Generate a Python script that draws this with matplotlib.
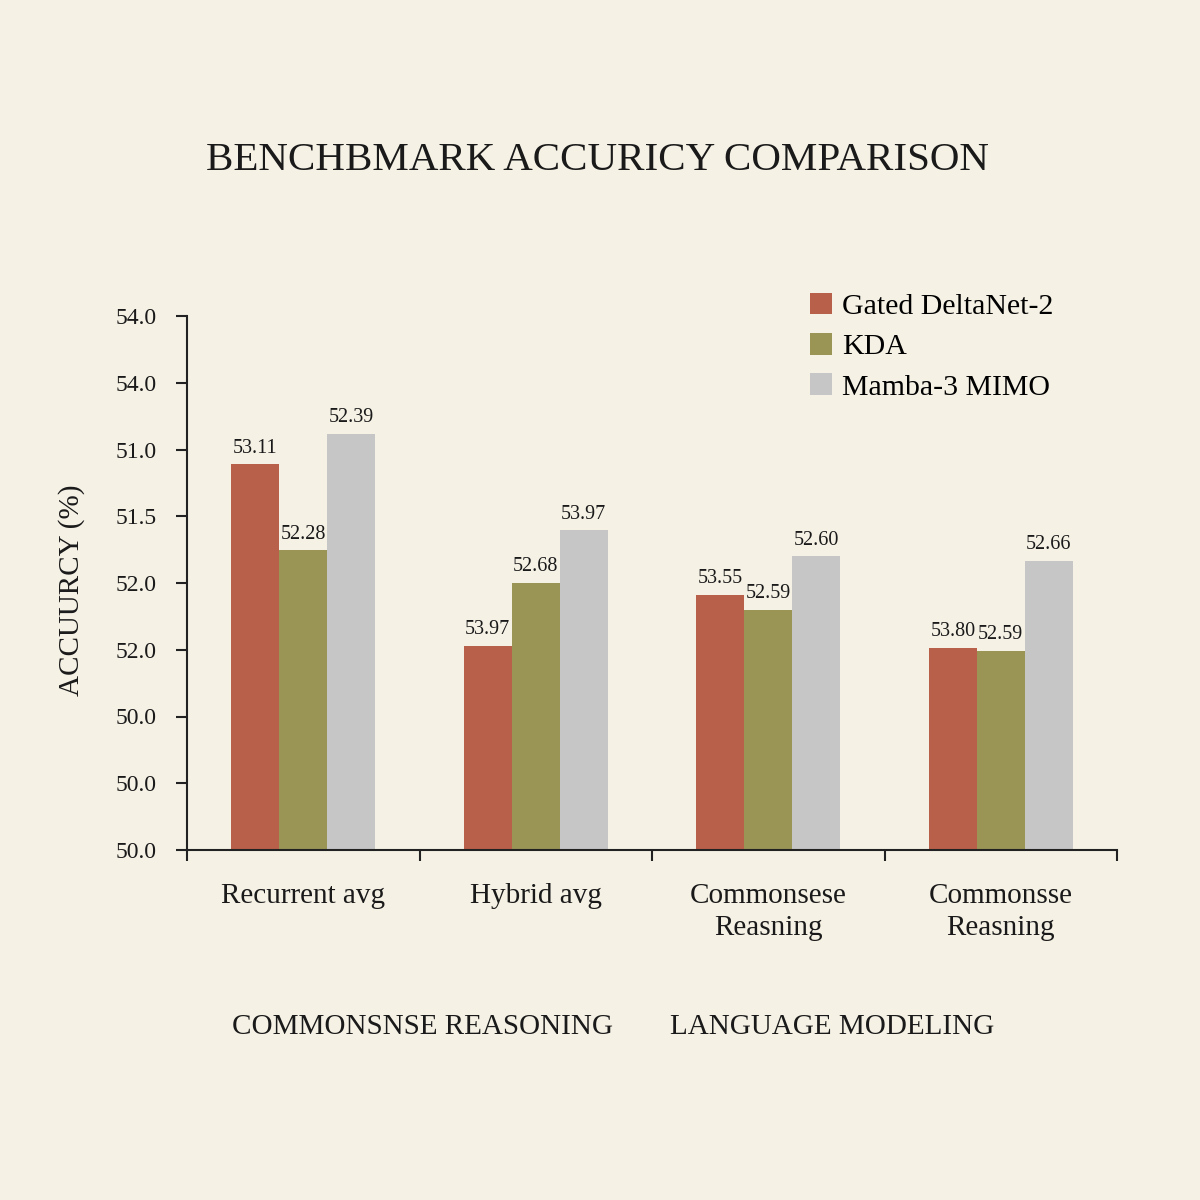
import matplotlib
matplotlib.use("Agg")
import matplotlib.pyplot as plt
import numpy as np

plt.rcParams['font.family'] = ['Liberation Serif', 'DejaVu Serif']

categories = ["Recurrent avg", "Hybrid avg", "Commonsese\nReasning", "Commonsse\nReasning"]
series_names = ["Gated DeltaNet-2", "KDA", "Mamba-3 MIMO"]
# bar heights in axis tick units (0 = bottom tick, 8 = top tick)
heights = {
    "Gated DeltaNet-2": [5.78, 3.06, 3.82, 3.03],
    "KDA":              [4.49, 4.00, 3.60, 2.98],
    "Mamba-3 MIMO":     [6.23, 4.79, 4.40, 4.33],
}
value_labels = {
    "Gated DeltaNet-2": ["53.11", "53.97", "53.55", "53.80"],
    "KDA":              ["52.28", "52.68", "52.59", "52.59"],
    "Mamba-3 MIMO":     ["52.39", "53.97", "52.60", "52.66"],
}
ytick_labels = ["50.0", "50.0", "50.0", "52.0", "52.0", "51.5", "51.0", "54.0", "54.0"]
section_labels = ["COMMONSNSE REASONING", "LANGUAGE MODELING"]
colors = ["#B9604A", "#9A9455", "#C6C6C6"]
bg = "#F5F1E5"
ink = "#1a1a1a"

fig = plt.figure(figsize=(12, 12), dpi=100, facecolor=bg)
ax = fig.add_axes([187/1200, 1-850/1200, 930/1200, 534/1200])
ax.set_facecolor(bg)

x = np.arange(len(categories))
w = 0.206
for i, name in enumerate(series_names):
    xs = x + (i-1)*w
    ax.bar(xs, heights[name], width=w, color=colors[i], label=name, zorder=2)
    for xi, h, lab in zip(xs, heights[name], value_labels[name]):
        ax.text(xi, h + 0.1, lab, ha='center', va='bottom', fontsize=14.5, color=ink)

ax.set_xlim(-0.5, 3.5)
ax.set_ylim(0, 8)
ax.set_yticks(range(9))
ax.set_yticklabels(ytick_labels, fontsize=17)
ax.set_xticks([-0.5, 0.5, 1.5, 2.5, 3.5])
ax.set_xticklabels([])
for xi, c in zip(x, categories):
    ax.text(xi, -0.50, c, ha='center', va='top', fontsize=21, color=ink, linespacing=1.3)
ax.tick_params(axis='both', direction='out', length=8, width=1.5, color='#222222', labelcolor=ink)
ax.tick_params(axis='y', pad=14)
for s in ['top', 'right']:
    ax.spines[s].set_visible(False)
for s in ['left', 'bottom']:
    ax.spines[s].set_linewidth(1.5)
    ax.spines[s].set_color('#222222')

ax.set_ylabel("ACCUURCY (%)", fontsize=21, color=ink)
ax.yaxis.set_label_coords((85-187)/930, (850-590)/534)

fig.text(597/1200, 1-160/1200, "BENCHBMARK ACCURICY COMPARISON", ha='center', va='center', fontsize=29.5, color=ink)
fig.text(422/1200, 1-1027/1200, section_labels[0], ha='center', va='center', fontsize=21, color=ink)
fig.text(832/1200, 1-1027/1200, section_labels[1], ha='center', va='center', fontsize=21, color=ink)

ax.legend(loc='upper left', bbox_to_anchor=(810/1200, 1-293/1200), bbox_transform=fig.transFigure,
          frameon=False, fontsize=21.5, handlelength=0.72, handleheight=0.72, handletextpad=0.35,
          labelspacing=0.44, borderpad=0, borderaxespad=0)

fig.savefig("out.png", dpi=100, facecolor=bg)
